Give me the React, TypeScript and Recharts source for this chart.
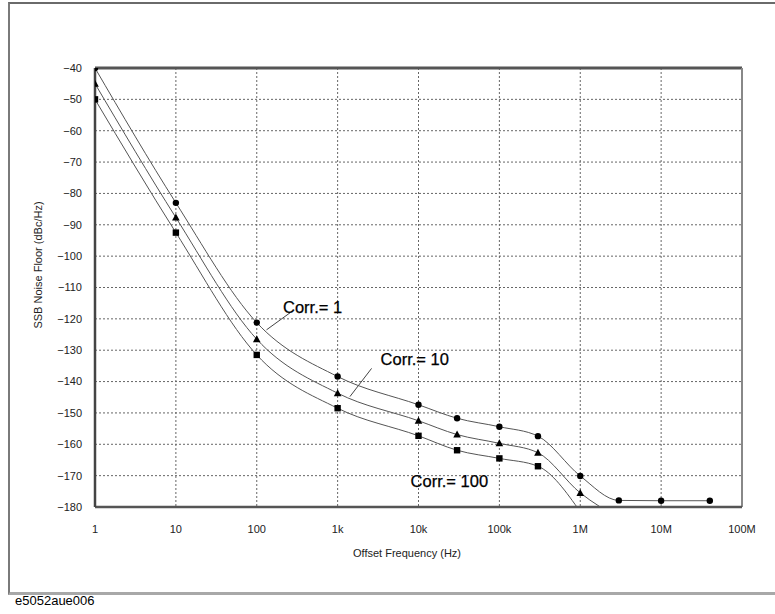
import React from "react";
import {
  LineChart,
  Line,
  XAxis,
  YAxis,
  CartesianGrid,
  ReferenceLine,
  ReferenceDot,
} from "recharts";

// Offset frequencies (Hz)
const freqs = [1, 10, 100, 1e3, 1e4, 3e4, 1e5, 3e5, 1e6, 3e6, 1e7, 4e7];
// SSB noise floor (dBc/Hz) for each correlation count
const corr1 = [-40, -83, -121.2, -138.4, -147.4, -151.7, -154.4, -157.4, -170.1, -177.9, -178, -178];
const corr10 = [-45, -87.7, -126.5, -143.7, -152.5, -156.9, -159.7, -162.7, -175.5, -183.5, null, null];
const corr100 = [-50, -92.5, -131.5, -148.5, -157.3, -161.9, -164.5, -167, -181.5, null, null, null];

const xTicks = [1, 10, 100, 1e3, 1e4, 1e5, 1e6, 1e7, 1e8];
const xTickLabels = ["1", "10", "100", "1k", "10k", "100k", "1M", "10M", "100M"];
const yTicks = [-40, -50, -60, -70, -80, -90, -100, -110, -120, -130, -140, -150, -160, -170, -180];

// Annotation text anchors and leader lines (data coordinates)
const annotations = [
  { text: "Corr.= 1", x: 211, y: -118.1 },
  { text: "Corr.= 10", x: 3398, y: -134.7 },
  { text: "Corr.= 100", x: 7980, y: -173.5 },
];
const leaders = [
  [{ x: 257, y: -118.1 }, { x: 132, y: -123.5 }],
  [{ x: 2630, y: -135.8 }, { x: 1419, y: -144.8 }],
];

const data = freqs.map((f, i) => ({
  f,
  c1: corr1[i],
  c10: corr10[i],
  c100: corr100[i],
}));

const FONT = "'Liberation Sans', Arial, sans-serif";

const makeDot = (key: string, shape: "circle" | "triangle" | "square") => (props: any) => {
  const { cx, cy, payload, index } = props;
  const v = payload ? payload[key] : null;
  if (v == null || v < -180 || cx == null || cy == null) return <g key={`${key}-${index}`} />;
  if (shape === "circle")
    return <circle key={`${key}-${index}`} cx={cx} cy={cy} r={3.2} fill="#000" />;
  if (shape === "square")
    return <rect key={`${key}-${index}`} x={cx - 3.2} y={cy - 3.2} width={6.4} height={6.4} fill="#000" />;
  return (
    <polygon
      key={`${key}-${index}`}
      points={`${cx},${cy - 4} ${cx - 3.8},${cy + 3} ${cx + 3.8},${cy + 3}`}
      fill="#000"
    />
  );
};

const annotationLabel = (text: string) => (props: any) => {
  const vb = props.viewBox || {};
  const x = (vb.x ?? 0) + (vb.width ?? 0) / 2;
  const y = (vb.y ?? 0) + (vb.height ?? 0) / 2;
  return (
    <text x={x} y={y} fontSize={16.5} fontFamily={FONT} fill="#000" stroke="#000" strokeWidth={0.25} textAnchor="start">
      {text}
    </text>
  );
};

export default function App() {
  return (
    <div style={{ position: "absolute", left: 0, top: 0, width: 775, height: 614, background: "#fff", overflow: "hidden" }}>
      <div
        style={{
          position: "absolute",
          left: 8,
          top: 2,
          width: 800,
          height: 588,
          borderTop: "2px solid #6a6a6a",
          borderLeft: "2px solid #7a7a7a",
          borderBottom: "3px solid #a8a8a8",
        }}
      />
      <div style={{ position: "absolute", left: 0, top: 0 }}>
        <LineChart width={775} height={614} data={data} margin={{ top: 68, right: 33, bottom: 0, left: 0 }}>
          <CartesianGrid stroke="#666" strokeDasharray="2 2" horizontalValues={yTicks} verticalValues={xTicks} />
          <XAxis
            dataKey="f"
            type="number"
            scale="log"
            domain={[1, 1e8]}
            ticks={xTicks}
            tickFormatter={(v: number) => xTickLabels[xTicks.indexOf(v)] ?? String(v)}
            height={107}
            tickLine={false}
            tickMargin={12}
            axisLine={{ stroke: "#555", strokeWidth: 2.5 }}
            tick={{ fontSize: 11, fill: "#222", fontFamily: FONT }}
            allowDataOverflow
          />
          <YAxis
            type="number"
            domain={[-180, -40]}
            ticks={yTicks}
            width={95}
            tickLine={false}
            tickMargin={7}
            interval={0}
            tickFormatter={(v: number) => String(v).replace("-", "\u2212")}
            axisLine={{ stroke: "#444", strokeWidth: 2.5 }}
            tick={{ fontSize: 11, fill: "#222", fontFamily: FONT }}
            allowDataOverflow
          />
          <ReferenceLine y={-40} stroke="#555" strokeWidth={3} />
          <ReferenceLine x={1e8} stroke="#888" strokeWidth={2} />
          {leaders.map((seg, i) => (
            <ReferenceLine key={`ld${i}`} segment={seg} stroke="#444" strokeWidth={1} />
          ))}
          <Line
            dataKey="c1"
            type="monotone"
            stroke="#555"
            strokeWidth={1}
            dot={makeDot("c1", "circle")}
            activeDot={false}
            isAnimationActive={false}
          />
          <Line
            dataKey="c10"
            type="monotone"
            stroke="#555"
            strokeWidth={1}
            dot={makeDot("c10", "triangle")}
            activeDot={false}
            isAnimationActive={false}
          />
          <Line
            dataKey="c100"
            type="monotone"
            stroke="#555"
            strokeWidth={1}
            dot={makeDot("c100", "square")}
            activeDot={false}
            isAnimationActive={false}
          />
          {annotations.map((a, i) => (
            <ReferenceDot
              key={`an${i}`}
              x={a.x}
              y={a.y}
              r={0}
              fill="none"
              stroke="none"
              label={annotationLabel(a.text)}
            />
          ))}
        </LineChart>
      </div>
      <div
        style={{
          position: "absolute",
          left: 350,
          top: 547,
          width: 114,
          textAlign: "center",
          fontFamily: FONT,
          fontSize: 11,
          color: "#222",
          whiteSpace: "nowrap",
        }}
      >
        Offset Frequency (Hz)
      </div>
      <div
        style={{
          position: "absolute",
          left: 38,
          top: 265,
          transform: "translate(-50%, -50%) rotate(-90deg)",
          fontFamily: FONT,
          fontSize: 11,
          color: "#222",
          whiteSpace: "nowrap",
        }}
      >
        SSB Noise Floor (dBc/Hz)
      </div>
      <div
        style={{
          position: "absolute",
          left: 15,
          top: 593,
          fontFamily: FONT,
          fontSize: 13,
          color: "#000",
          whiteSpace: "nowrap",
        }}
      >
        e5052aue006
      </div>
    </div>
  );
}
